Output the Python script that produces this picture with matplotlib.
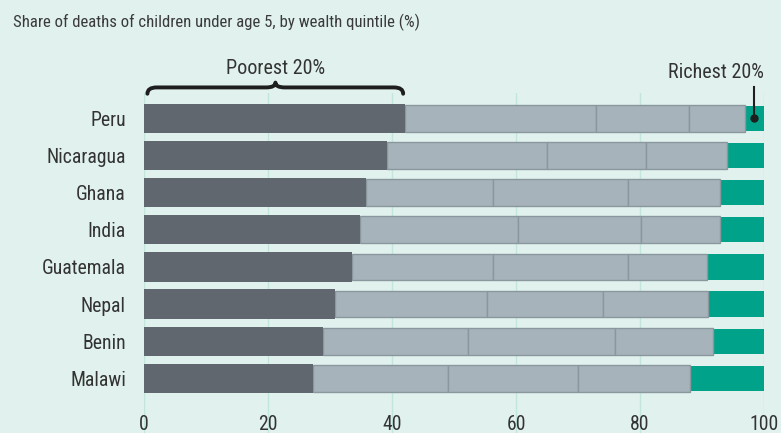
import matplotlib
matplotlib.use("Agg")
import matplotlib.pyplot as plt
from matplotlib.path import Path
from matplotlib.patches import PathPatch

countries = ["Peru", "Nicaragua", "Ghana", "India", "Guatemala", "Nepal", "Benin", "Malawi"]
q1 = [42.1, 39.2, 35.8, 34.8, 33.6, 30.8, 28.8, 27.2]
q2 = [30.8, 25.8, 20.5, 25.5, 22.7, 24.5, 23.5, 21.8]
q3 = [15.0, 16.0, 21.8, 19.8, 21.7, 18.8, 23.7, 21.0]
q4 = [9.0, 13.0, 14.8, 12.8, 12.8, 16.8, 15.8, 18.0]
q5 = [3.1, 6.0, 7.1, 7.1, 9.2, 9.1, 8.2, 12.0]
xticks = [0, 20, 40, 60, 80, 100]

plt.rcParams["font.family"] = ["Roboto Condensed", "DejaVu Sans"]

BG = "#e1f2ee"
DARK = "#61676e"
LIGHT = "#a7b3bb"
EDGE = "#8a979d"
GREEN = "#00a389"
GRID = "#c2e6dc"
TXT = "#333333"
FS = 14.2

W, H = 781, 433
fig = plt.figure(figsize=(W / 100, H / 100), dpi=100, facecolor=BG)
ax = fig.add_axes([144 / W, 0, (764 - 144) / W, (H - 93) / H], facecolor=BG)

y = list(range(len(countries)))
ax.barh(y, q1, height=0.79, color=DARK, edgecolor="none", zorder=3)
left = list(q1)
for vals in (q2, q3, q4):
    ax.barh(y, vals, left=left, height=0.72, color=LIGHT, edgecolor=EDGE, linewidth=1.0, zorder=2)
    left = [a + b for a, b in zip(left, vals)]
ax.barh(y, q5, left=left, height=0.68, color=GREEN, edgecolor="none", zorder=1)

ax.set_xlim(0, 100)
ax.set_ylim(8.47, -0.68)
ax.set_xticks(xticks)
ax.set_xticklabels([str(t) for t in xticks])
ax.set_yticks(y)
ax.set_yticklabels(countries)
ax.tick_params(axis="x", length=0, pad=-6, labelsize=FS, labelcolor=TXT)
ax.tick_params(axis="y", length=0, pad=13, labelsize=FS, labelcolor=TXT)
for lab in ax.get_xticklabels():
    lab.set_verticalalignment("center")
for s in ax.spines.values():
    s.set_visible(False)
ax.grid(axis="x", color=GRID, linewidth=1, zorder=0)
ax.set_axisbelow(True)

# brace over poorest quintile
x0, x1, xm = 0.55, 41.8, 21.2
yb, ye, yt = -0.83, -0.66, -0.96
verts = [(x0, ye), (x0, yb), (x0 + 1.5, yb),
         (xm - 1.5, yb), (xm, yb), (xm, yt),
         (xm, yb), (xm + 1.5, yb),
         (x1 - 1.5, yb), (x1, yb), (x1, ye)]
codes = [Path.MOVETO, Path.CURVE3, Path.CURVE3,
         Path.LINETO, Path.CURVE3, Path.CURVE3,
         Path.CURVE3, Path.CURVE3,
         Path.LINETO, Path.CURVE3, Path.CURVE3]
ax.add_patch(PathPatch(Path(verts, codes), facecolor="none", edgecolor="#1e1e1e",
                       linewidth=2.8, clip_on=False, capstyle="round", joinstyle="round"))
ax.text(xm, -1.33, "Poorest 20%", ha="center", va="center", fontsize=14.5, color=TXT, clip_on=False)

# richest pointer
xr = 100 - q5[0] / 2
ax.plot([xr, xr], [-0.83, 0], color="#1e1e1e", linewidth=1.5, clip_on=False, zorder=5)
ax.plot([xr], [0], marker="o", markersize=5, color="#1e1e1e", zorder=6, clip_on=False)
ax.text(100, -1.24, "Richest 20%", ha="right", va="center", fontsize=14.5, color=TXT, clip_on=False)

fig.text(13 / W, 1 - 22 / H, "Share of deaths of children under age 5, by wealth quintile (%)",
         ha="left", va="center", fontsize=12.1, color="#3a3a3a")

fig.savefig("out.png", dpi=100, facecolor=BG)
